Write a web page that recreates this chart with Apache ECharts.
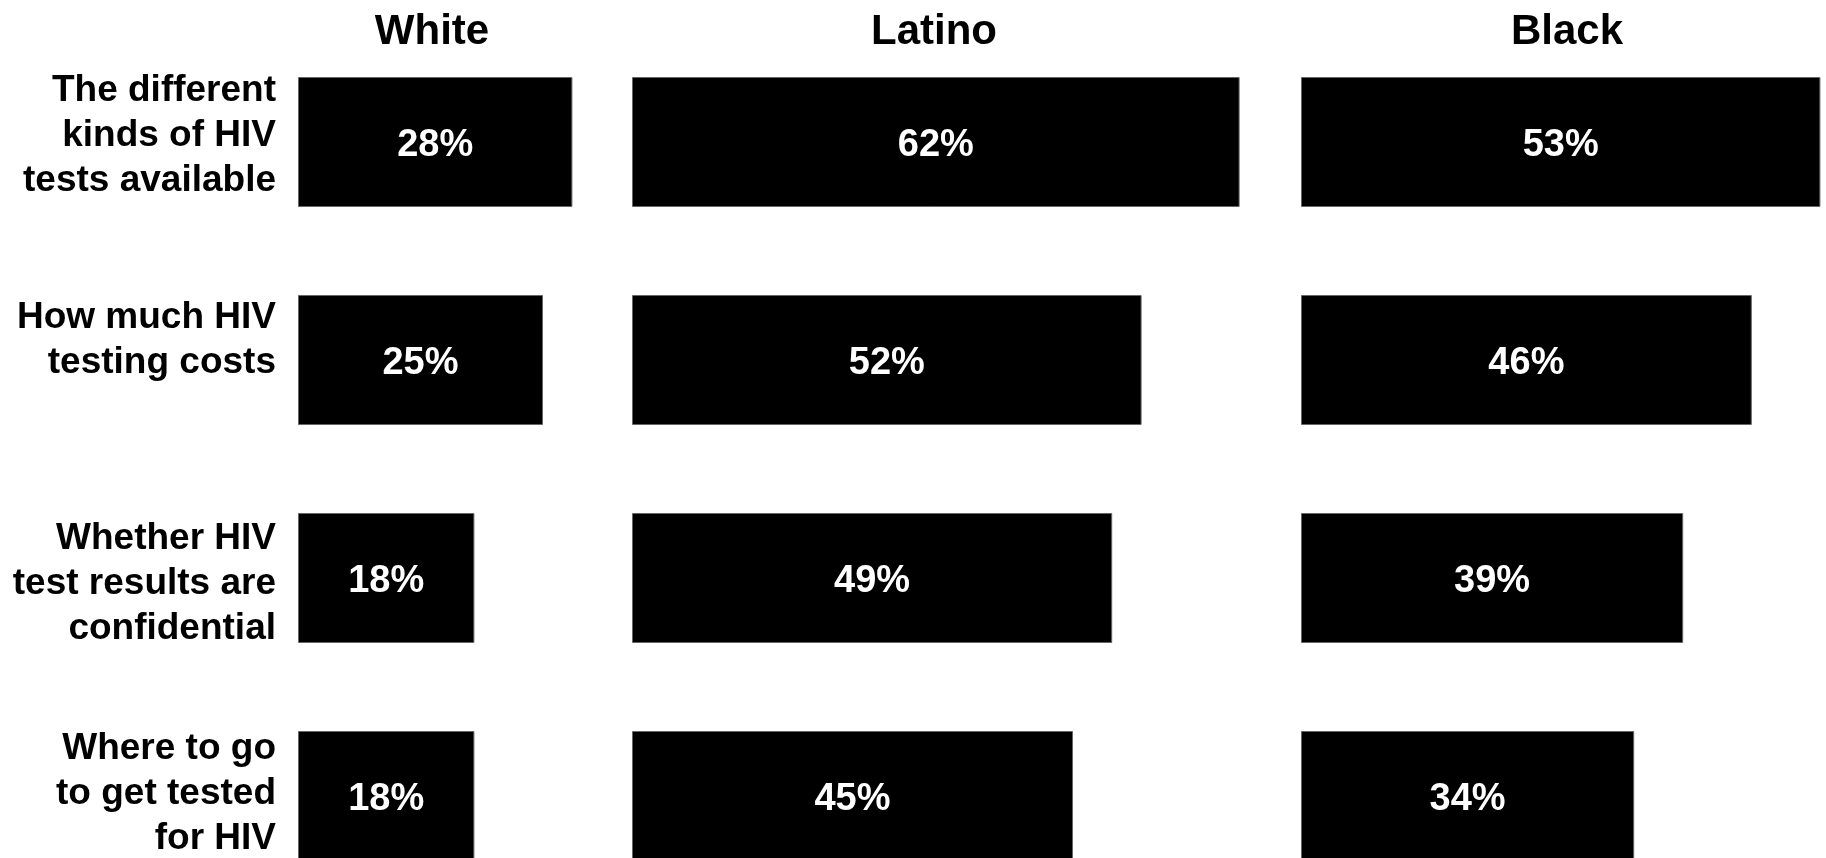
<!DOCTYPE html>
<html>
<head>
<meta charset="utf-8">
<script src="https://cdn.jsdelivr.net/npm/echarts@6/dist/echarts.min.js"></script>
<style>
html,body{margin:0;padding:0;background:#fff;}
#chart{width:1826px;height:858px;}
</style>
</head>
<body>
<div id="chart"></div>
<script>
var categories = [
  'The different\nkinds of HIV\ntests available',
  'How much HIV\ntesting costs',
  'Whether HIV\ntest results are\nconfidential',
  'Where to go\nto get tested\nfor HIV'
];
var groups = ['White', 'Latino', 'Black'];
var whiteValues = [28, 25, 18, 18];
var latinoValues = [62, 52, 49, 45];
var blackValues = [53, 46, 39, 34];
var axisMax = [30, 65, 53];

var FONT = '"Liberation Sans", Arial, sans-serif';
var PX = 9.8; // pixels per percent
var lefts = [298, 632, 1301];
var headerX = [427, 929, 1562];
var labelNudge = [-6, -20, 6, -2];
var seriesValues = [whiteValues, latinoValues, blackValues];

var grids = [], xAxes = [], yAxes = [], series = [], titles = [];
groups.forEach(function (g, i) {
  grids.push({left: lefts[i], width: axisMax[i] * PX, top: 33, height: 872,
              containLabel: false, outerBoundsMode: 'none'});
  xAxes.push({type: 'value', gridIndex: i, min: 0, max: axisMax[i], show: false});
  yAxes.push({
    type: 'category', gridIndex: i, inverse: true, data: categories,
    axisLine: {show: false}, axisTick: {show: false}, splitLine: {show: false},
    axisLabel: {show: false}
  });
  series.push({
    type: 'bar', xAxisIndex: i, yAxisIndex: i, data: seriesValues[i],
    barWidth: 130,
    itemStyle: {color: '#000', borderColor: '#666', borderWidth: 1},
    label: {
      show: true, position: 'inside', formatter: '{c}%', offset: [0, 4],
      color: '#fff', fontFamily: FONT, fontWeight: 'bold', fontSize: 38
    },
    silent: true, animation: false
  });
  titles.push({
    text: g, left: headerX[i], top: 6, textAlign: 'center',
    textStyle: {fontFamily: FONT, fontWeight: 'bold', fontSize: 42, color: '#000'}
  });
});

var chart = echarts.init(document.getElementById('chart'));
chart.setOption({
  animation: false,
  backgroundColor: '#fff',
  title: titles,
  grid: grids,
  xAxis: xAxes,
  yAxis: yAxes,
  series: series
});

// category labels placed through the category axis scale
var graphics = categories.map(function (c, k) {
  var pt = chart.convertToPixel({xAxisIndex: 0, yAxisIndex: 0}, [0, c]);
  return {
    type: 'text', silent: true,
    x: pt[0] - 22, y: pt[1] + labelNudge[k],
    style: {
      text: c, fill: '#000', align: 'right', verticalAlign: 'middle',
      font: 'bold 37px ' + FONT, lineHeight: 45
    }
  };
});
chart.setOption({graphic: graphics});
</script>
</body>
</html>
